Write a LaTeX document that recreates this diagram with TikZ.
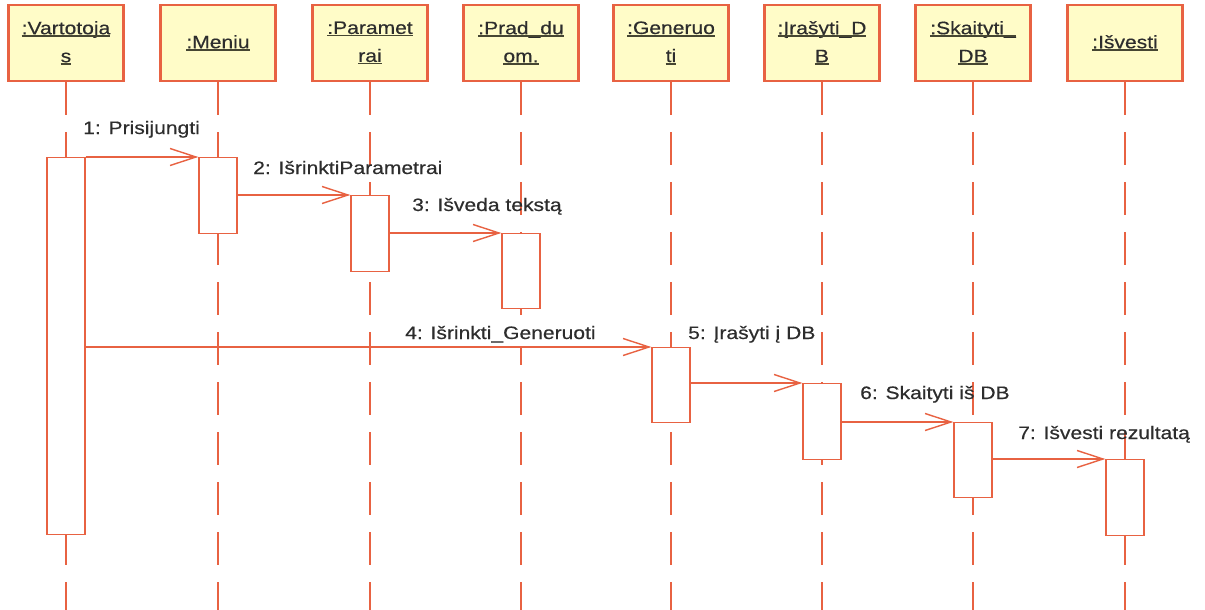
\documentclass[tikz,border=0pt]{standalone}
\usepackage{fontspec}
\setmainfont{Liberation Sans}
\newfontfamily\lblfont[FakeStretch=1.17,FakeBold=0.4]{Liberation Sans}
\usetikzlibrary{arrows.meta}
\definecolor{umlline}{RGB}{232,98,66}
\definecolor{umlfill}{RGB}{255,252,200}
\definecolor{umltext}{RGB}{45,45,45}
\definecolor{umlrule}{RGB}{70,70,50}
% underline at a fixed depth, crossing descenders
\newsavebox\ulinebox
\newcommand{\ulin}[1]{\sbox\ulinebox{#1}\rlap{\usebox\ulinebox}{\color{umlrule}\rule[-2.6pt]{\wd\ulinebox}{1.5pt}}}
\tikzset{
  objbox/.style={draw=umlline, line width=2.2pt, fill=umlfill, minimum width=115pt,
    minimum height=76pt, inner sep=0pt, align=center, text=umltext,
    font=\lblfont\fontsize{18}{28}\selectfont},
  lifeline/.style={draw=umlline, line width=1.5pt, dash pattern=on 33pt off 17pt},
  actbox/.style={draw=umlline, line width=1.4pt, fill=white, minimum width=38pt,
    inner sep=0pt, anchor=north},
  msg/.style={draw=umlline, line width=1.4pt,
    -{Straight Barb[length=26pt,width=17pt,line width=1.4pt]}},
  lbl/.style={anchor=base west, inner sep=0pt, text=umltext,
    font=\lblfont\fontsize{18}{22}\selectfont}
}
\begin{document}
\begin{tikzpicture}[x=1pt,y=-1pt]
\fill[white] (0,0) rectangle (1205,610);
\useasboundingbox (0,0) rectangle (1205,610);

% object boxes
\node[objbox] (bV)  at (66,43)   {\ulin{:Vartotoja}\\\ulin{s}};
\node[objbox] (bM)  at (218,43)  {\ulin{:Meniu}};
\node[objbox] (bP)  at (370,43)  {\ulin{:Paramet}\\\ulin{rai}};
\node[objbox] (bPr) at (521,43)  {\ulin{:Prad\_du}\\\ulin{om.}};
\node[objbox] (bG)  at (671,43)  {\ulin{:Generuo}\\\ulin{ti}};
\node[objbox] (bI)  at (822,43)  {\ulin{:Įrašyti\_D}\\\ulin{B}};
\node[objbox] (bS)  at (973,43)  {\ulin{:Skaityti\_}\\\ulin{DB}};
\node[objbox] (bIs) at (1125,43) {\ulin{:Išvesti}};

% lifeline ends
\coordinate (eV)  at (66,610);
\coordinate (eM)  at (218,610);
\coordinate (eP)  at (370,610);
\coordinate (ePr) at (521,610);
\coordinate (eG)  at (671,610);
\coordinate (eI)  at (822,610);
\coordinate (eS)  at (973,610);
\coordinate (eIs) at (1125,610);

\foreach \n in {V,M,P,Pr,G,I,S,Is}
  \draw[lifeline] (b\n.south) -- (e\n);

% activation bars
\node[actbox, minimum height=377pt] (aV)  at (66,157)  {};
\node[actbox, minimum height=76pt]  (aM)  at (218,157) {};
\node[actbox, minimum height=76pt]  (aP)  at (370,195) {};
\node[actbox, minimum height=75pt]  (aPr) at (521,233) {};
\node[actbox, minimum height=75pt]  (aG)  at (671,347) {};
\node[actbox, minimum height=76pt]  (aI)  at (822,383) {};
\node[actbox, minimum height=75pt]  (aS)  at (973,422) {};
\node[actbox, minimum height=76pt]  (aIs) at (1125,459) {};

% label of the long call masks the lifeline it crosses
\node[lbl, fill=white, inner ysep=3pt] (l4) at (405,339)  {4: Išrinkti\_Generuoti};

% messages
\draw[msg] (aV.east |- aM.north west) -- (aM.north west);
\draw[msg] (aM.east |- aP.north west) -- (aP.north west);
\draw[msg] (aP.east |- aPr.north west) -- (aPr.north west);
\draw[msg] (aV.east |- aG.north west) -- (aG.north west);
\draw[msg] (aG.east |- aI.north west) -- (aI.north west);
\draw[msg] (aI.east |- aS.north west) -- (aS.north west);
\draw[msg] (aS.east |- aIs.north west) -- (aIs.north west);

% message labels
\node[lbl] (l1) at (83,134)   {1: Prisijungti};
\node[lbl] (l2) at (253,174)  {2: IšrinktiParametrai};
\node[lbl] (l3) at (412,211)  {3: Išveda tekstą};
\node[lbl] (l5) at (688,339)  {5: Įrašyti į DB};
\node[lbl] (l6) at (860,399)  {6: Skaityti iš DB};
\node[lbl] (l7) at (1018,439) {7: Išvesti rezultatą};
\end{tikzpicture}
\end{document}
